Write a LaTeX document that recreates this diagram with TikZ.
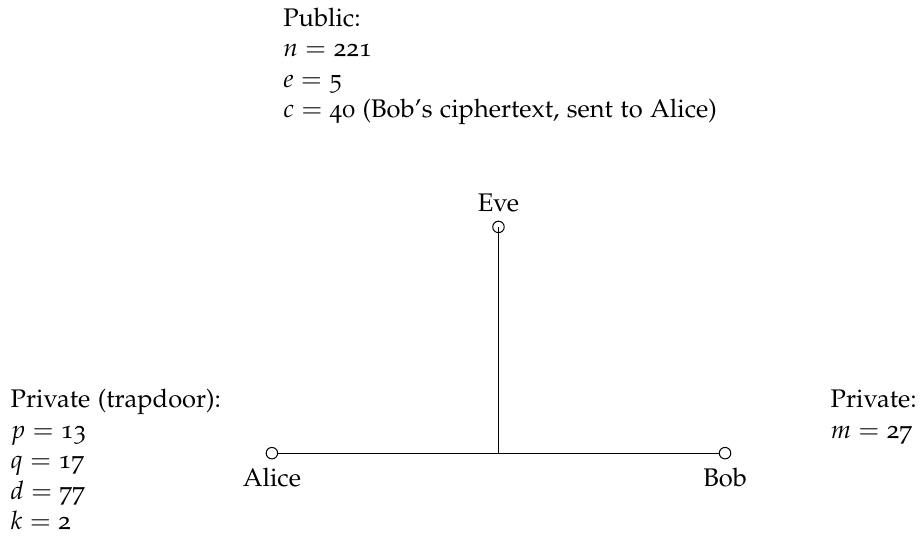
\documentclass[tikz,border=0pt]{standalone}
\usepackage[T1]{fontenc}
\usepackage[osf]{mathpazo}
\usepackage{amsmath}
\usepackage{tikz}

\begin{document}
\begin{tikzpicture}
\tikzset{
  party/.style={circle, draw, inner sep=0pt, minimum size=4.5pt},
  info/.style={align=left, anchor=north west, inner sep=0pt}
}
\useasboundingbox (-3.75,-1.17) rectangle (8.98,6.25);

    % The three parties
    \node[party, label=below:Alice] (alice) at (0,0) {};
    \node[party, label=below:Bob] (bob) at (6.25,0) {};
    \node[party, label=above:Eve] (eve) at (3.125,3.12) {};
    \coordinate (tap) at (eve |- alice);

    % Channel between Alice and Bob, Eve listening in
    \draw (alice) -- (bob);
    \draw (eve.center) -- (tap);

    % What everybody knows
    \node[info] (public) at (0.15,6.15) {Public:\\
      $n = \text{221}$\\
      $e = \text{5}$\\
      $c = \text{40}$ (Bob's ciphertext, sent to Alice)};

    % Alice's secrets
    \node[info] (alicekeys) at (-3.61,0.89) {Private (trapdoor):\\
      $p = \text{13}$\\
      $q = \text{17}$\\
      $d = \text{77}$\\
      $k = \text{2}$};

    % Bob's secret
    \node[info] (bobkeys) at (7.70,0.875) {Private:\\
      $m = \text{27}$};

\end{tikzpicture}
\end{document}
